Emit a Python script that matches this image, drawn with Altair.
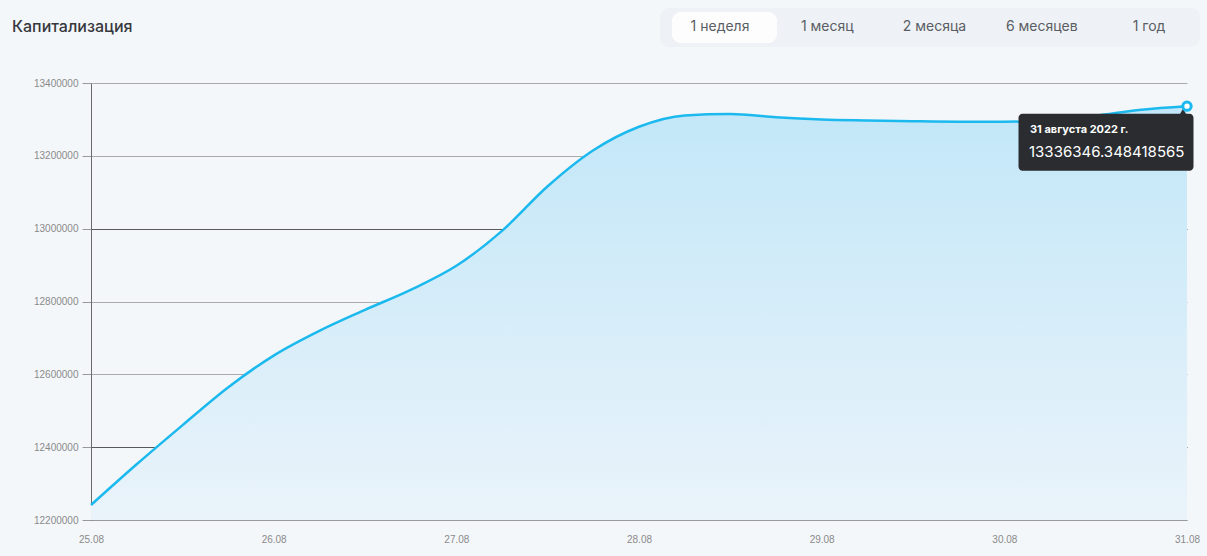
import altair as alt
import pandas as pd

# --- data -------------------------------------------------------------
dates = [
    "2022-08-25T00:00", "2022-08-25T06:00", "2022-08-25T12:00", "2022-08-25T18:00",
    "2022-08-26T00:00", "2022-08-26T06:00", "2022-08-26T12:00", "2022-08-26T18:00",
    "2022-08-27T00:00", "2022-08-27T06:00", "2022-08-27T12:00", "2022-08-27T18:00",
    "2022-08-28T00:00", "2022-08-28T06:00", "2022-08-28T12:00", "2022-08-28T18:00",
    "2022-08-29T00:00", "2022-08-29T06:00", "2022-08-29T12:00", "2022-08-29T18:00",
    "2022-08-30T00:00", "2022-08-30T06:00", "2022-08-30T12:00", "2022-08-30T18:00",
    "2022-08-31T00:00",
]
values = [
    12241200, 12353000, 12459900, 12564000,
    12651500, 12719300, 12777000, 12832000,
    12898000, 12994000, 13116400, 13215300,
    13279900, 13311000, 13315000, 13306000,
    13300000, 13297200, 13295000, 13293700,
    13293700, 13296400, 13310000, 13326600,
    13336346.348418565,
]
y_ticks = [12200000, 12400000, 12600000, 12800000, 13000000, 13200000, 13400000]
buttons = ["1 неделя", "1 месяц", "2 месяца", "6 месяцев", "1 год"]
title_text = ["Капитализация"]
tooltip_date = "31 августа 2022 г."
tooltip_value = "13336346.348418565"

df = pd.DataFrame({"date": dates, "value": values})
last = pd.DataFrame({"date": [dates[-1]], "value": [values[-1]],
                     "label": [tooltip_date], "vtext": [tooltip_value]})
btn_df = pd.DataFrame({"b": buttons})
title_df = pd.DataFrame({"t": title_text})

LINE = "#1bb9ee"
UI_FONT = "Inter"
AX_FONT = "Liberation Sans"

x_enc = alt.X("date:T",
              scale=alt.Scale(domain=[dates[0], dates[-1]], nice=False),
              axis=alt.Axis(format="%d.%m", values=[d for d in dates if d.endswith("T00:00")],
                            title=None, grid=False, ticks=False, domainColor="#9a9a9a",
                            labelColor="#8a8a8a", labelFont=AX_FONT, labelFontSize=10,
                            labelPadding=14, labelFlush=False, labelOverlap=False))
y_scale = alt.Scale(domain=[12200000, 13400000], nice=False, zero=False)
y_enc = alt.Y("value:Q", scale=y_scale,
              axis=alt.Axis(values=y_ticks, format="d", title=None,
                            grid=True,
                            gridColor={"condition": {"test": "datum.value == 13000000 || datum.value == 12400000",
                                                     "value": "#5a5a5a"}, "value": "#ababab"},
                            gridWidth=1, domainColor="#6a6a6a", tickColor="#9a9a9a",
                            tickSize=9, labelColor="#8a8a8a", labelFont=AX_FONT,
                            labelFontSize=10, labelPadding=4))

base = alt.Chart(df)

area = base.mark_area(
    interpolate="monotone",
    color=alt.Gradient(gradient="linear",
                       stops=[alt.GradientStop(color="#eaf3fa", offset=0),
                              alt.GradientStop(color="#c2e7f8", offset=1)],
                       x1=1, x2=1, y1=1, y2=0),
).encode(x=x_enc, y=y_enc, y2=alt.datum(12200000))

line = base.mark_line(interpolate="monotone", color=LINE, strokeWidth=2.5).encode(
    x="date:T", y="value:Q")

lc = alt.Chart(last)
tip_box = lc.mark_rect(color="#2a2c2f", cornerRadius=4, width=175, height=57,
                       xOffset=-81, yOffset=36).encode(x="date:T", y="value:Q")
tip_arrow = lc.mark_point(shape="triangle-up", filled=True, color="#2a2c2f", size=60,
                          opacity=1, xOffset=-4, yOffset=6).encode(x="date:T", y="value:Q")
tip_date = lc.mark_text(font=UI_FONT, fontSize=11, fontWeight="bold", color="white",
                        align="left", baseline="middle", dx=-157, dy=24).encode(
    x="date:T", y="value:Q", text="label:N")
tip_val = lc.mark_text(font=UI_FONT, fontSize=15, color="white",
                       align="left", baseline="middle", dx=-158, dy=46).encode(
    x="date:T", y="value:Q", text="vtext:N")
pt = lc.mark_point(filled=True, fill="white", stroke=LINE, strokeWidth=3, size=70,
                   opacity=1).encode(x="date:T", y="value:Q")

main = alt.layer(area, line, tip_box, tip_arrow, tip_date, tip_val, pt)

# header: title + button bar (decoration)
title_mark = alt.Chart(title_df).mark_text(
    font=UI_FONT, fontSize=16, fontWeight=500, color="#36383d",
    align="left", baseline="middle").encode(
    x=alt.value(-79), y=alt.value(-56), text="t:N")
pill = alt.Chart(btn_df).mark_rect(color="#eef2f6", cornerRadius=10).encode(
    x=alt.value(569), x2=alt.value(1109), y=alt.value(-75), y2=alt.value(-36))
selected = alt.Chart(btn_df).mark_rect(color="#fdfdfe", cornerRadius=10).encode(
    x=alt.value(581), x2=alt.value(686), y=alt.value(-71), y2=alt.value(-40))
btn_text = alt.Chart(btn_df).mark_text(font=UI_FONT, fontSize=14, color="#5a5d63",
                                       baseline="middle").encode(
    x=alt.X("b:N", sort=buttons, scale=alt.Scale(type="point", range=[629, 1058], padding=0),
            axis=None),
    y=alt.value(-56),
    text="b:N")
header = alt.layer(title_mark, pill, selected, btn_text)

chart = alt.layer(main, header).resolve_scale(x="independent").properties(
    width=1096, height=437,
    autosize=alt.AutoSizeParams(type="none"),
    padding={"left": 91, "top": 83, "right": 20, "bottom": 36},
    background="#f4f7fa",
).configure_view(stroke=None)

chart.save("out.html", embed_options={"renderer": "svg", "actions": False})
